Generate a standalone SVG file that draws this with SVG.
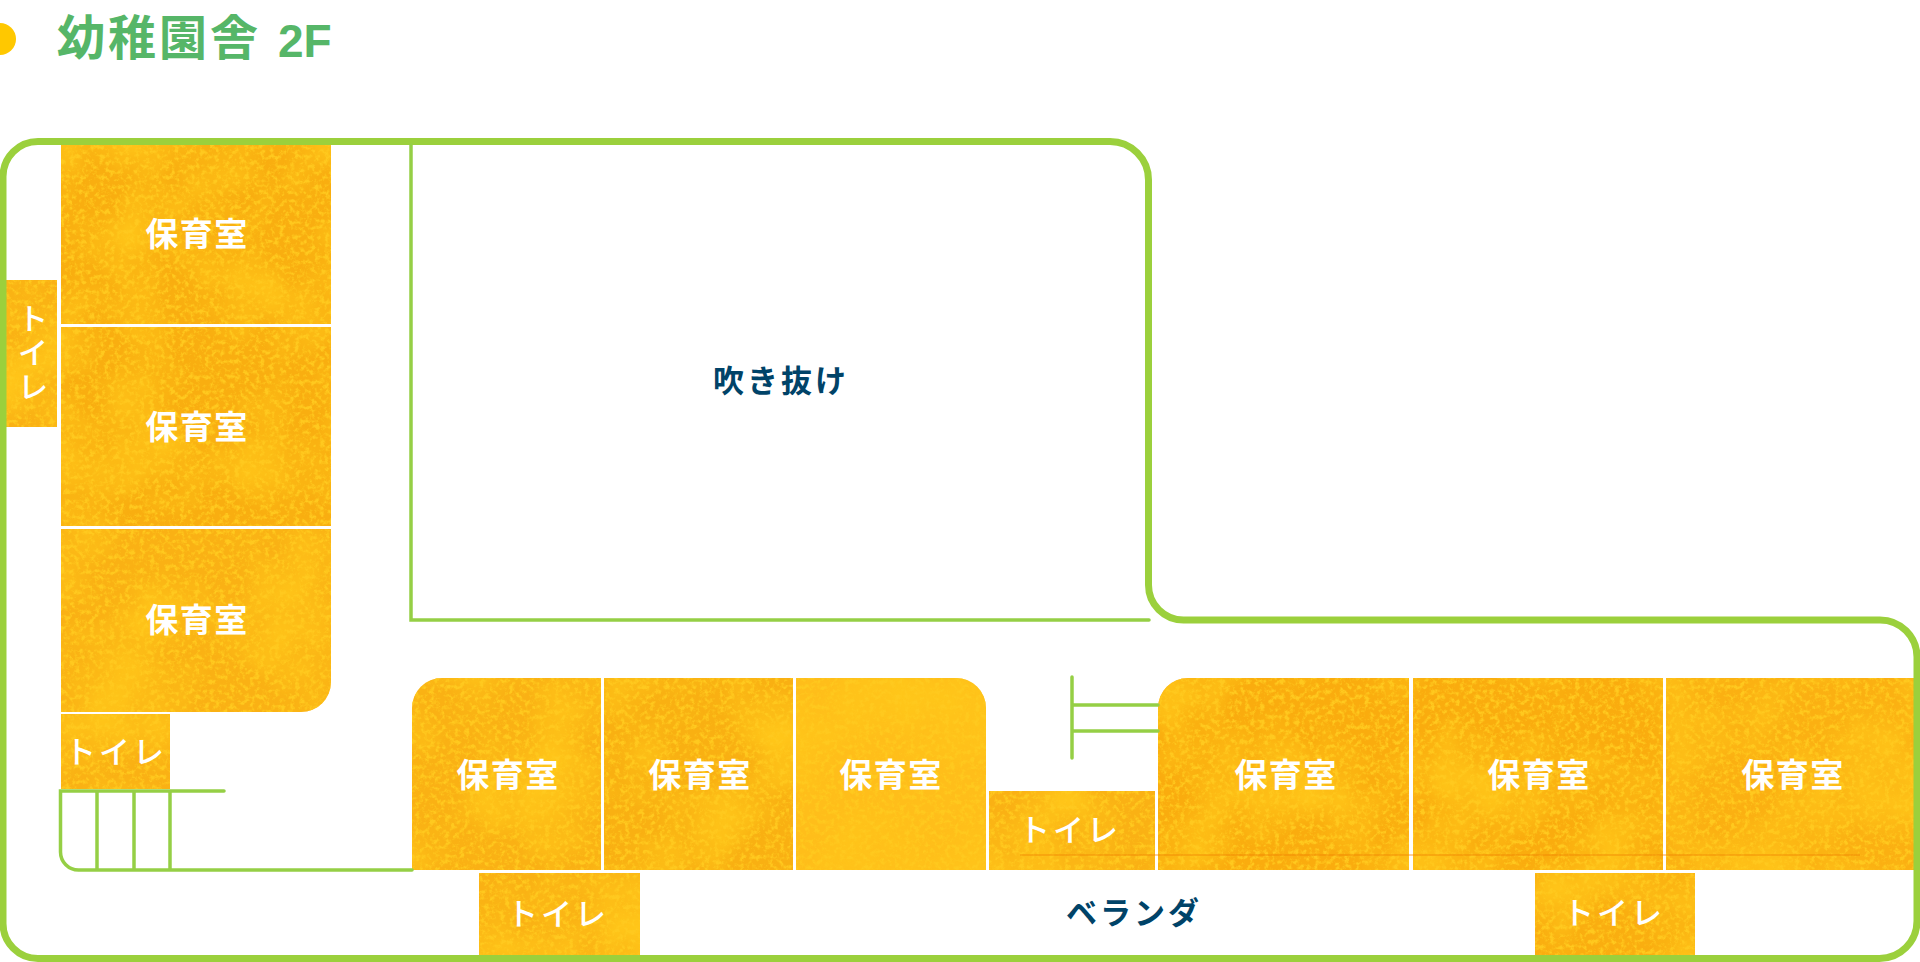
<svg xmlns="http://www.w3.org/2000/svg" width="1920" height="962" viewBox="0 0 1920 962">
<style>
.room{filter:url(#tex)}
.lb{font-family:"Noto Sans CJK JP","Noto Sans",sans-serif;font-weight:700;fill:#fff;text-anchor:middle;font-size:33px;letter-spacing:1.500px}
.wc{font-size:31px;letter-spacing:3px;font-weight:500}
.dk{fill:#004368;font-size:31px;letter-spacing:3px}
.wall{fill:none;stroke:#9BD03C;stroke-width:7}
.thin{fill:none;stroke:#95CF45;stroke-width:3.500;stroke-linecap:round}
</style>
<defs>
<filter id="tex" filterUnits="objectBoundingBox" x="0" y="0" width="1" height="1" color-interpolation-filters="sRGB">
<feTurbulence type="fractalNoise" baseFrequency="0.2" numOctaves="5" seed="5" result="fine"/>
<feColorMatrix in="fine" type="matrix" values="0 0 0 0 1  0 0 0 0 0.79  0 0 0 0 0.12  3.500 0 0 0 -1.600" result="lightA"/>
<feTurbulence type="fractalNoise" baseFrequency="0.012" numOctaves="3" seed="11" result="big"/>
<feColorMatrix in="big" type="matrix" values="0 0 0 0 1  0 0 0 0 0.78  0 0 0 0 0.1  2 0 0 0 -0.75" result="lightB"/>
<feComposite in="lightA" in2="SourceAlpha" operator="in" result="a"/>
<feComposite in="lightB" in2="SourceAlpha" operator="in" result="b"/>
<feMerge><feMergeNode in="SourceGraphic"/><feMergeNode in="b"/><feMergeNode in="a"/></feMerge>
</filter>
</defs>
<rect width="1920" height="962" fill="#fff"/>
<g id="title">
<path d="M0 23A16 16 0 0 1 0 55Z" fill="#FFC800"/>
<text x="57" y="55" font-family="'Noto Sans CJK JP','Noto Sans',sans-serif" font-weight="700" font-size="48" letter-spacing="3" fill="#56B668">幼稚園舎</text>
<text x="278" y="57" font-family="'Liberation Sans',sans-serif" font-weight="700" font-size="46" fill="#56B668">2F</text>
</g>
<g id="room-1"><path class="room" fill="#F9AE10" d="M61 145H331V324H61Z"/><text class="lb" x="197" y="246">保育室</text></g>
<g id="room-2"><path class="room" fill="#F9AE10" d="M61 327H331V526H61Z"/><text class="lb" x="197" y="439">保育室</text></g>
<g id="room-3"><path class="room" fill="#FAB114" d="M61 529H331V682A30 30 0 0 1 301 712H61Z"/><text class="lb" x="197" y="632">保育室</text></g>
<g id="toilet-west"><rect class="room" fill="#FAB114" x="6" y="280" width="51" height="147"/><text class="lb wc" x="33" y="354" writing-mode="vertical-rl">トイレ</text></g>
<g id="toilet-sw"><rect class="room" fill="#FAB114" x="61" y="714" width="109" height="75"/><text class="lb wc" x="116" y="763">トイレ</text></g>
<g id="room-4"><path class="room" fill="#FAB114" d="M412 870V708A30 30 0 0 1 442 678H601V870Z"/><text class="lb" x="508" y="787">保育室</text></g>
<g id="room-5"><rect class="room" fill="#F9B012" x="604" y="678" width="189" height="192"/><text class="lb" x="700" y="787">保育室</text></g>
<g id="room-6"><path class="room" fill="#FFBE1A" d="M796 678H956A30 30 0 0 1 986 708V870H796Z"/><text class="lb" x="891" y="787">保育室</text></g>
<g id="toilet-mid"><rect class="room" fill="#FAB114" x="989" y="791" width="166" height="79"/><text class="lb wc" x="1070" y="841">トイレ</text></g>
<g id="room-7"><path class="room" fill="#FAAC0E" d="M1158 870V708A30 30 0 0 1 1188 678H1409V870Z"/><text class="lb" x="1286" y="787">保育室</text></g>
<g id="room-8"><rect class="room" fill="#FAAC0E" x="1413" y="678" width="250" height="192"/><text class="lb" x="1539" y="787">保育室</text></g>
<g id="room-9"><rect class="room" fill="#FBB012" x="1666" y="678" width="248" height="192"/><text class="lb" x="1793" y="787">保育室</text></g>
<path d="M1020 855H1860" fill="none" stroke="#F07F00" stroke-width="1.500" opacity=".5"/>
<g id="toilet-s1"><rect class="room" fill="#FAB114" x="479" y="873" width="161" height="82"/><text class="lb wc" x="558" y="925">トイレ</text></g>
<g id="toilet-s2"><rect class="room" fill="#FAAE10" x="1535" y="873" width="160" height="82"/><text class="lb wc" x="1614" y="924">トイレ</text></g>
<g id="atrium"><text class="lb dk" x="781" y="392">吹き抜け</text></g>
<g id="veranda"><text class="lb dk" x="1134" y="924">ベランダ</text></g>
<g id="walls">
<path class="wall" d="M38 141.500H1110A38.500 38.500 0 0 1 1148.500 180V585A35 35 0 0 0 1183.500 620H1880A37 37 0 0 1 1917 657V921A37.500 37.500 0 0 1 1879.500 958.500H38A35 35 0 0 1 3 923.500V176.500A35 35 0 0 1 38 141.500Z"/>
<path class="thin" d="M411 145V620H1149"/>
<path class="thin" d="M224 791H60.500V852A18 18 0 0 0 78.500 870H412M97 791V870M134 791V870M170 791V870"/>
<path class="thin" d="M1072 677V758M1072 705H1158M1072 731H1158"/>
</g>
</svg>
